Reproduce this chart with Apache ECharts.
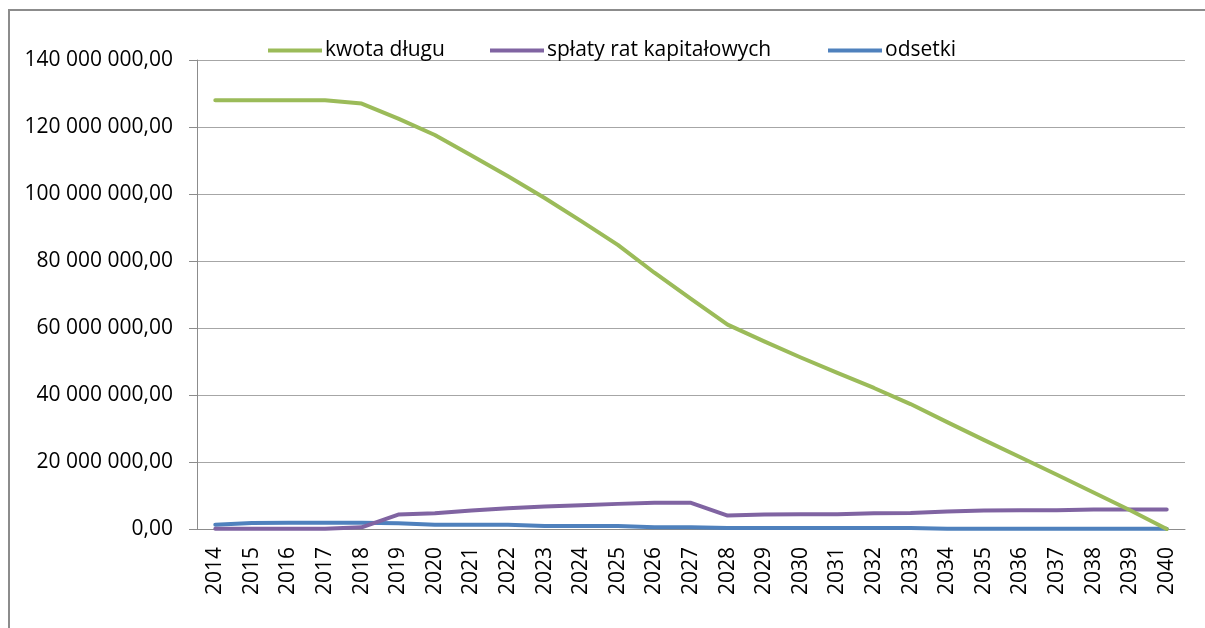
<!DOCTYPE html>
<html>
<head>
<meta charset="utf-8">
<script src="https://cdn.jsdelivr.net/npm/echarts@6/dist/echarts.min.js"></script>
<style>
  html, body { margin: 0; padding: 0; background: #fff; }
  #chart { width: 1205px; height: 628px; }
</style>
</head>
<body>
<div id="chart"></div>
<script>
// lata
var years = ['2014', '2015', '2016', '2017', '2018', '2019', '2020', '2021', '2022', '2023',
  '2024', '2025', '2026', '2027', '2028', '2029', '2030', '2031', '2032', '2033',
  '2034', '2035', '2036', '2037', '2038', '2039', '2040']

// kwota długu
var kwotaDlugu = [128000000, 128000000, 128000000, 128000000, 127000000, 122500000, 117600000,
  111500000, 105300000, 98800000, 91900000, 84800000, 76500000, 68700000, 61000000,
  56000000, 51200000, 46600000, 42100000, 37300000, 31900000, 26600000, 21400000,
  16200000, 10900000, 5600000, 0]

// spłaty rat kapitałowych
var splatyRat = [100000, 100000, 100000, 100000, 500000, 4300000, 4700000, 5500000, 6200000,
  6700000, 7100000, 7500000, 7800000, 7800000, 4000000, 4300000, 4400000, 4400000,
  4700000, 4800000, 5200000, 5500000, 5600000, 5600000, 5800000, 5800000, 5800000]

// odsetki
var odsetki = [1300000, 1800000, 1900000, 1900000, 1900000, 1700000, 1300000, 1300000, 1300000,
  900000, 900000, 900000, 500000, 500000, 300000, 300000, 300000, 300000, 300000,
  300000, 100000, 100000, 100000, 100000, 100000, 100000, 100000]

var seriesNames = ['kwota długu', 'spłaty rat kapitałowych', 'odsetki']
var colors = ['#9bbb59', '#8064a2', '#4f81bd']

var font = '"Open Sans", "Liberation Sans", sans-serif'

function fmt(v) {
  var s = String(Math.round(v))
  s = s.replace(/\B(?=(\d{3})+(?!\d))/g, ' ')
  return s + ',00'
}

function legendAt(left, name) {
  return {
    left: left,
    top: 40,
    data: [name],
    icon: 'rect',
    itemWidth: 54,
    itemHeight: 4,
    itemGap: 0,
    padding: 0,
    textStyle: { fontFamily: font, fontSize: 21, color: '#000', padding: [0, 0, 0, -2] }
  }
}

var chart = echarts.init(document.getElementById('chart'), null, { renderer: 'canvas' })

chart.setOption({
  animation: false,
  color: colors,
  graphic: [{
    type: 'rect',
    shape: { x: 9, y: 10, width: 1300, height: 800 },
    style: { fill: 'none', stroke: '#8c8c8c', lineWidth: 2 },
    silent: true
  }],
  legend: [
    legendAt(268, seriesNames[0]),
    legendAt(490, seriesNames[1]),
    legendAt(828, seriesNames[2])
  ],
  grid: { left: 197, right: 20, top: 60, bottom: 99 },
  xAxis: {
    type: 'category',
    data: years,
    boundaryGap: true,
    axisLine: { lineStyle: { color: '#8c8c8c', width: 1 } },
    axisTick: { length: 8, interval: 0, lineStyle: { color: '#8c8c8c' } },
    axisLabel: {
      interval: 0,
      rotate: 90,
      margin: 18,
      fontFamily: font,
      fontSize: 21,
      color: '#000'
    },
    splitLine: { show: false }
  },
  yAxis: {
    type: 'value',
    min: 0,
    max: 140000000,
    interval: 20000000,
    axisLine: { show: true, lineStyle: { color: '#8c8c8c', width: 1 } },
    axisTick: { show: true, length: 8, lineStyle: { color: '#8c8c8c' } },
    axisLabel: {
      margin: 24,
      formatter: fmt,
      fontFamily: font,
      fontSize: 21,
      color: '#000'
    },
    splitLine: { lineStyle: { color: '#a6a6a6', width: 1 } }
  },
  series: [
    {
      name: seriesNames[0],
      type: 'line',
      data: kwotaDlugu,
      symbol: 'none',
      lineStyle: { width: 4, cap: 'round', join: 'round' },
      z: 3
    },
    {
      name: seriesNames[1],
      type: 'line',
      data: splatyRat,
      symbol: 'none',
      lineStyle: { width: 4, cap: 'round', join: 'round' },
      z: 2
    },
    {
      name: seriesNames[2],
      type: 'line',
      data: odsetki,
      symbol: 'none',
      lineStyle: { width: 4, cap: 'round', join: 'round' },
      z: 1
    }
  ]
})
</script>
</body>
</html>
